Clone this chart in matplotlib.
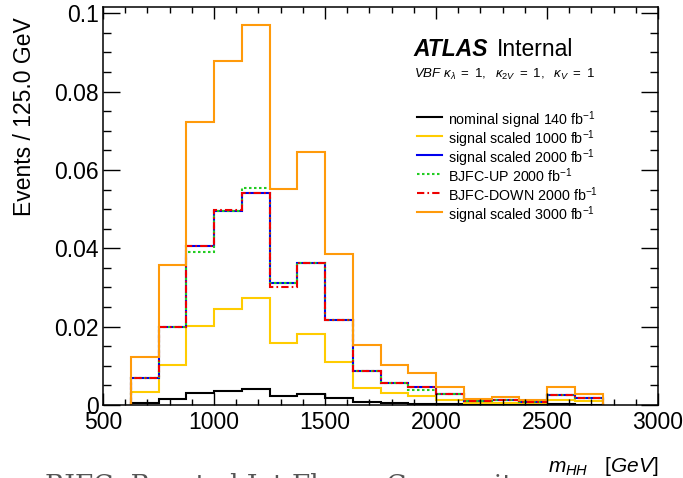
import matplotlib
matplotlib.use("Agg")
import matplotlib.pyplot as plt
from matplotlib.ticker import MultipleLocator, FuncFormatter
from matplotlib.lines import Line2D
from matplotlib.patches import Rectangle
import numpy as np

plt.rcParams['font.family'] = ['Liberation Sans', 'DejaVu Sans']
plt.rcParams['mathtext.fontset'] = 'custom'
plt.rcParams['mathtext.rm'] = 'Liberation Sans'
plt.rcParams['mathtext.it'] = 'Liberation Sans:italic'
plt.rcParams['mathtext.bf'] = 'Liberation Sans:bold'

# ---- data ----
bin_edges = [625, 750, 875, 1000, 1125, 1250, 1375, 1500, 1625, 1750,
             1875, 2000, 2125, 2250, 2375, 2500, 2625, 2750]
nominal_140 = [0.0004, 0.0015, 0.0030, 0.0036, 0.0040, 0.0024, 0.0028, 0.0017, 0.0008,
               0.0004, 0.0003, 0.0002, 0.0001, 0.0001, 0.0001, 0.0002, 0.0001]
scaled_1000 = [0.0034, 0.0101, 0.0202, 0.0245, 0.0274, 0.0157, 0.0181, 0.0111, 0.0044,
               0.0030, 0.0024, 0.0014, 0.0006, 0.0006, 0.0004, 0.0013, 0.0009]
scaled_2000 = [0.0068, 0.0200, 0.0406, 0.0494, 0.0542, 0.0311, 0.0363, 0.0217, 0.0086,
               0.0057, 0.0045, 0.0027, 0.0011, 0.0012, 0.0008, 0.0026, 0.0017]
bjfc_up_2000 = [0.0068, 0.0200, 0.0391, 0.0494, 0.0553, 0.0311, 0.0363, 0.0217, 0.0086,
                0.0057, 0.0038, 0.0027, 0.0011, 0.0012, 0.0008, 0.0026, 0.0017]
bjfc_down_2000 = [0.0068, 0.0200, 0.0406, 0.0497, 0.0542, 0.0300, 0.0363, 0.0217, 0.0086,
                  0.0057, 0.0045, 0.0027, 0.0011, 0.0012, 0.0008, 0.0026, 0.0017]
scaled_3000 = [0.0123, 0.0357, 0.0722, 0.0878, 0.0969, 0.0551, 0.0647, 0.0386, 0.0153,
               0.0103, 0.0081, 0.0047, 0.0016, 0.0021, 0.0013, 0.0046, 0.0029]

labels = [r"nominal signal 140 fb$^{\mathregular{-1}}$",
          r"signal scaled 1000 fb$^{\mathregular{-1}}$",
          r"signal scaled 2000 fb$^{\mathregular{-1}}$",
          r"BJFC-UP 2000 fb$^{\mathregular{-1}}$",
          r"BJFC-DOWN 2000 fb$^{\mathregular{-1}}$",
          r"signal scaled 3000 fb$^{\mathregular{-1}}$"]

x_ticks = [500, 1000, 1500, 2000, 2500, 3000]
y_ticks = [0, 0.02, 0.04, 0.06, 0.08, 0.1]

# ---- styles ----
series = [nominal_140, scaled_1000, scaled_2000, bjfc_up_2000, bjfc_down_2000, scaled_3000]
colors = ['#000000', '#FFCC00', '#0000EE', '#22CC22', '#EE0000', '#FF9a0a']
styles = ['-', '-', '-', (0, (1.2, 1.2)), (0, (3.5, 1.5, 0.8, 1.5)), '-']
widths = [1.5, 1.5, 1.5, 1.5, 1.5, 1.5]

W, H = 683, 478
fig = plt.figure(figsize=(W / 100, H / 100), dpi=100)
ax = fig.add_axes([103 / W, 1 - 405 / H, 555 / W, 398 / H])

for vals, c, ls, lw in zip(series, colors, styles, widths):
    ax.stairs(vals, bin_edges, baseline=0, color=c, linestyle=ls, linewidth=lw)

ax.set_xlim(500, 3000)
ax.set_ylim(0, 0.1016)
ax.set_xticks(x_ticks)
ax.set_yticks(y_ticks)
ax.xaxis.set_minor_locator(MultipleLocator(100))
ax.yaxis.set_minor_locator(MultipleLocator(0.005))
ax.yaxis.set_major_formatter(FuncFormatter(lambda v, p: "%g" % v))
ax.tick_params(axis='both', which='both', direction='in', top=True, right=True,
               labelsize=16.5, width=1.0, colors='black')
ax.tick_params(axis='x', which='major', length=8.5, pad=4)
ax.tick_params(axis='x', which='minor', length=4.3)
ax.tick_params(axis='y', which='major', length=12.2, pad=3)
ax.tick_params(axis='y', which='minor', length=6.1)
for s in ax.spines.values():
    s.set_linewidth(1.1)

# axis titles
fig.text(25 / W, 1 - 17 / H, "Events / 125.0 GeV", rotation=90, ha='center', va='top',
         fontsize=16.5)

# caption fragment (cut off at bottom)
fig.text(45 / W, 1 - 493 / H, "BJFC: Boosted Jet Flavor Composition", ha='left',
         va='baseline', fontsize=19, color='#555555', family='DejaVu Serif')
fig.add_artist(Rectangle((512 / W, 0), 1 - 512 / W, 40 / H, transform=fig.transFigure,
                         facecolor='white', edgecolor='none', zorder=5))
fig.text(658 / W, 1 - 472 / H, r"$m_{HH}\ \ \ [GeV]$", ha='right', va='baseline',
         fontsize=15, zorder=6)

# ATLAS label
fig.text(413 / W, 1 - 56 / H, "ATLAS", fontsize=16.5, fontweight='bold', style='italic',
         ha='left', va='baseline')
fig.text(497 / W, 1 - 56 / H, "Internal", fontsize=16.5, ha='left', va='baseline')
fig.text(414 / W, 1 - 78 / H,
         r"$VBF\ \kappa_{\lambda}\ \mathregular{=\ 1,}\ \ \kappa_{2V}\ \mathregular{=\ 1,}\ \ \kappa_{V}\ \mathregular{=\ 1}$",
         fontsize=9.5, ha='left', va='baseline')

# legend (manual)
leg_x0, leg_x1, leg_tx = 417 / W, 442 / W, 448 / W
row0, drow = 117, 19.1
for i, (lab, c, ls, lw) in enumerate(zip(labels, colors, styles, widths)):
    yy = 1 - (row0 + i * drow) / H
    fig.add_artist(Line2D([leg_x0, leg_x1], [yy, yy], transform=fig.transFigure,
                          color=c, linestyle=ls, linewidth=lw))
    fig.text(leg_tx, yy, lab, fontsize=10.3, ha='left', va='center_baseline')

fig.savefig("out.png", dpi=100)
